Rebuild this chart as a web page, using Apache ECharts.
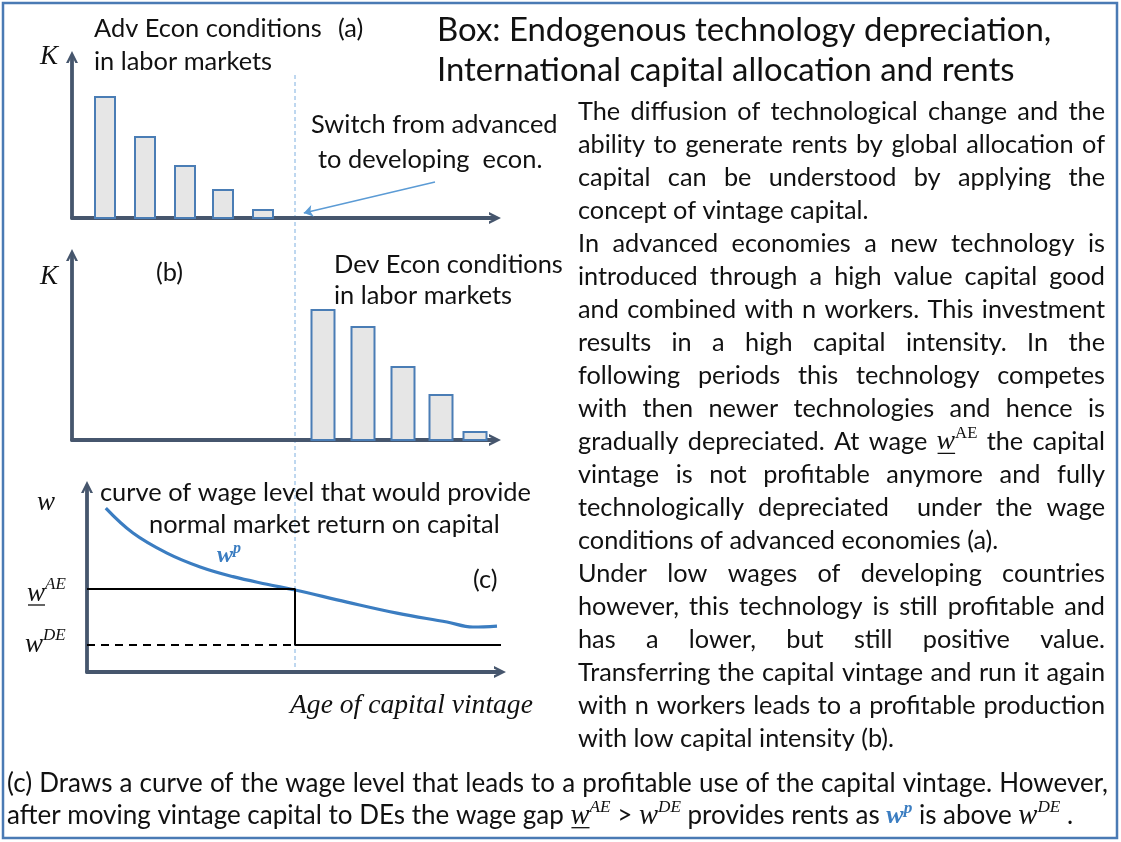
<!DOCTYPE html>
<html lang="en">
<head>
<meta charset="UTF-8">
<title>Endogenous technology depreciation</title>
<style>
  html,body{margin:0;padding:0;background:#fff;}
  #main{width:1121px;height:842px;}
</style>
</head>
<body>
<div id="main"></div>
<script src="https://cdn.jsdelivr.net/npm/echarts@6/dist/echarts.min.js"></script>
<script>
// (a) vintages in advanced economies: age and capital value
const agesAdv = [0.45, 1.45, 2.45, 3.4, 4.4];
const capitalAdv = [12.1, 8.1, 5.2, 2.8, 0.8];
// (b) the same vintages run in developing economies
const agesDev = [5.9, 6.9, 7.9, 8.85, 9.7];
const capitalDev = [13.0, 11.3, 7.3, 4.5, 0.8];
// (c) wage level w^p giving normal return, by vintage age
const curveAge = [0.47, 1.15, 2.0, 2.83, 3.65, 4.5, 5.2, 6.5, 7.75, 9.0, 9.65, 10.25];
const curveWage = [8.63, 7.32, 6.26, 5.53, 5.02, 4.62, 4.32, 3.68, 3.1, 2.63, 2.37, 2.42];
const wageAE = 4.37;
const wageDE = 1.42;
const switchAge = 5.2;
const ageEnd = 10.5;
const arrowFrom = [8.7, 3.6];
const arrowTo = [5.42, 0.5];

const titleLines = ['Box: Endogenous technology depreciation,', 'International capital allocation and rents'];
const bodyLines = [
  'The diffusion of technological change and the',
  'ability to generate rents by global allocation of',
  'capital can be understood by applying the',
  'concept of vintage capital.',
  'In advanced economies a new technology is',
  'introduced through a high value capital good',
  'and combined with n workers. This investment',
  'results in a high capital intensity. In the',
  'following periods this technology competes',
  'with then newer technologies and hence is',
  'gradually depreciated. At wage {wAE} the capital',
  'vintage is not profitable anymore and fully',
  'technologically depreciated  under the wage',
  'conditions of advanced economies (a).',
  'Under low wages of developing countries',
  'however, this technology is still profitable and',
  'has a lower, but still positive value.',
  'Transferring the capital vintage and run it again',
  'with n workers leads to a profitable production',
  'with low capital intensity (b).'
];
const bodyLast = [3, 13, 19]; // paragraph ends, not justified
const captionLines = [
  '(c) Draws a curve of the wage level that leads to a profitable use of the capital vintage. However,',
  'after moving vintage capital to DEs the wage gap {wAEi} > {wDE} provides rents as {wp} is above {wDE} .'
];

const SANS = 'Lato, "Liberation Sans", sans-serif';
const SERIF = '"Liberation Serif", "DejaVu Serif", serif';
const INK = '#111';
const BLUE = '#3b7dc1';
const AXIS = '#46566d';

const ctx = document.createElement('canvas').getContext('2d');
function textW(font, s){ ctx.font = font; return ctx.measureText(s).width; }
function fit(style, family, sample, target){ return 20 * target / textW(style + ' 20px ' + family, sample); }

const titleSize = fit('', SANS, titleLines[0], 615);
const labelSize = fit('', SANS, 'curve of wage level that would provide', 431);
// body: as wide as the reference, but every justified line must still fit 527px
const widest = Math.max(...bodyLines.filter((s, i) => !bodyLast.includes(i))
  .map(s => textW('20px ' + SANS, s.replace('{wAE}', 'wAE'))));
const bodySize = Math.min(fit('', SANS, 'conditions of advanced economies (a).', 429), 20 * 520 / widest);
const capSize = fit('', SANS, captionLines[0], 1092);
const ageSize = fit('italic', SERIF, 'Age of capital vintage', 243);

const f = (size, family, style) => (style ? style + ' ' : '') + size.toFixed(1) + 'px ' + family;

function wordAE(size, italicSup){
  return [
    {text:'w', font:f(size*1.1, SERIF, 'italic'), underline:true, ul:size*0.45},
    {text:'AE', font:f(size*0.66, SERIF, italicSup ? 'italic' : ''), dy:-size*0.32}
  ];
}
const special = {
  '{wAE}': wordAE(bodySize, false),
  '{wAEi}': wordAE(capSize, true),
  '{wDE}': [
    {text:'w', font:f(capSize*1.1, SERIF, 'italic')},
    {text:'DE', font:f(capSize*0.66, SERIF, 'italic'), dy:-capSize*0.32}
  ],
  '{wp}': [
    {text:'w', font:f(capSize*1.0, SERIF, 'italic bold'), fill:BLUE},
    {text:'p', font:f(capSize*0.66, SERIF, 'italic bold'), fill:BLUE, dy:-capSize*0.3}
  ]
};

const chart = echarts.init(document.getElementById('main'));

const arrowHead = 'path://M0,10 L5,0 L10,10 L7.8,10 L5,4.2 L2.2,10 Z';
function axisLine(){
  return {show:true, onZero:false, symbol:['none', arrowHead], symbolSize:[18, 12],
    lineStyle:{color:AXIS, width:3.8}};
}
function xAxis(grid, min, max){
  return {type:'value', gridIndex:grid, min, max, axisLine:axisLine(),
    axisTick:{show:false}, axisLabel:{show:false}, splitLine:{show:false}};
}
function yAxis(grid, max){
  return {type:'value', gridIndex:grid, min:0, max, axisLine:axisLine(),
    axisTick:{show:false}, axisLabel:{show:false}, splitLine:{show:false}};
}
function barItem(width){
  return function(params, api){
    const p0 = api.coord([api.value(0), 0]);
    const p1 = api.coord([api.value(0), api.value(1)]);
    return {type:'rect', shape:{x:p0[0]-width/2, y:p1[1], width, height:p0[1]-p1[1]},
      style:{fill:'#e6e6e6', stroke:'#4a7db5', lineWidth:2}};
  };
}

const option = {
  animation:false,
  grid:[
    {left:72, top:57, width:423, height:161},
    {left:72, top:255, width:423, height:185},
    {left:87, top:487, width:413, height:185}
  ],
  xAxis:[xAxis(0, -0.375, 10.2), xAxis(1, -0.375, 10.2), xAxis(2, 0, 10.325)],
  yAxis:[yAxis(0, 16.1), yAxis(1, 18.5), yAxis(2, 9.74)],
  series:[
    {type:'custom', xAxisIndex:0, yAxisIndex:0, renderItem:barItem(20),
      encode:{x:0, y:1}, data:agesAdv.map((a, i) => [a, capitalAdv[i]]),
      markLine:{silent:true, symbol:['none', 'arrow'], symbolSize:9, label:{show:false},
        lineStyle:{color:'#5b9bd5', width:1.4, type:'solid'},
        data:[[{coord:arrowFrom}, {coord:arrowTo}]]}},
    {type:'custom', xAxisIndex:1, yAxisIndex:1, renderItem:barItem(23),
      encode:{x:0, y:1}, data:agesDev.map((a, i) => [a, capitalDev[i]])},
    {type:'line', xAxisIndex:2, yAxisIndex:2, smooth:0.4, symbol:'none',
      lineStyle:{color:BLUE, width:3.2}, data:curveAge.map((a, i) => [a, curveWage[i]])},
    {type:'line', xAxisIndex:2, yAxisIndex:2, symbol:'none', clip:false,
      lineStyle:{color:'#000', width:2},
      data:[[0, wageAE], [switchAge, wageAE], [switchAge, wageDE], [ageEnd, wageDE]]},
    {type:'line', xAxisIndex:2, yAxisIndex:2, symbol:'none',
      lineStyle:{color:'#000', width:2, type:[8, 6]},
      data:[[0, wageDE], [switchAge, wageDE]]}
  ]
};
chart.setOption(option);

// texts and the switch line
const els = [];
els.push({type:'rect', silent:true, shape:{x:3, y:3, width:1114, height:835},
  style:{fill:'none', stroke:'#4a7ab4', lineWidth:2.5}});
const lineTop = chart.convertToPixel({gridIndex:0}, [switchAge, 14.3]);
const lineBot = chart.convertToPixel({gridIndex:2}, [switchAge, 0]);
els.push({type:'line', silent:true, shape:{x1:lineTop[0], y1:lineTop[1], x2:lineBot[0], y2:lineBot[1]},
  style:{stroke:'#7fb0e0', lineWidth:1, lineDash:[4, 3]}});

function txt(x, y, text, font, fill){
  els.push({type:'text', x, y, silent:true,
    style:{text, font, fill:fill || INK, textAlign:'left', textVerticalAlign:'middle'}});
  return textW(font, text);
}
function pieces(list, x, y){
  let px = x;
  list.forEach(p => {
    const w = txt(px, y + (p.dy || 0), p.text, p.font, p.fill);
    if (p.underline) els.push({type:'line', silent:true,
      shape:{x1:px + 1, y1:y + p.ul, x2:px + w, y2:y + p.ul}, style:{stroke:INK, lineWidth:1.3}});
    px += w;
  });
  return px - x;
}
const wordW = list => list.reduce((s, p) => s + textW(p.font, p.text), 0);
function textLine(str, x, y, font, width){
  const words = str.split(' ').map(t => special[t] || [{text:t, font}]);
  const ws = words.map(wordW);
  let gap = textW(font, ' ');
  if (width) gap = (width - ws.reduce((a, b) => a + b, 0)) / (words.length - 1);
  let px = x;
  words.forEach((w, i) => { pieces(w, px, y); px += ws[i] + gap; });
}

// title and body text
titleLines.forEach((s, i) => txt(437, 30 + 40 * i, s, f(titleSize, SANS)));
bodyLines.forEach((s, i) => {
  textLine(s, 578, 112 + 33 * i, f(bodySize, SANS), bodyLast.includes(i) ? 0 : 527);
});
textLine(captionLines[0], 7, 784, f(capSize, SANS), 1101);
textLine(captionLines[1], 7, 816, f(capSize, SANS), 0);

// panel labels
const lab = f(labelSize, SANS);
txt(94, 29, 'Adv Econ conditions', lab);
txt(338, 29, '(a)', lab);
txt(94, 62, 'in labor markets', lab);
txt(311, 125, 'Switch from advanced', lab);
txt(318, 160, 'to developing  econ.', lab);
txt(156, 273, '(b)', lab);
txt(334, 265, 'Dev Econ conditions', lab);
txt(334, 296, 'in labor markets', lab);
txt(100, 493, 'curve of wage level that would provide', lab);
txt(149, 525, 'normal market return on capital', lab);
txt(473, 580, '(c)', lab);
txt(290, 706, 'Age of capital vintage', f(ageSize, SERIF, 'italic'));

const sym = f(27, SERIF, 'italic');
txt(40, 57, 'K', sym);
txt(40, 277, 'K', sym);
txt(37, 503, 'w', sym);
pieces([{text:'w', font:sym, underline:true, ul:11},
  {text:'AE', font:f(17, SERIF, 'italic'), dy:-9}], 27, 594);
pieces([{text:'w', font:sym},
  {text:'DE', font:f(17, SERIF, 'italic'), dy:-9}], 25, 645);
pieces([{text:'w', font:f(24, SERIF, 'italic bold'), fill:BLUE},
  {text:'p', font:f(16, SERIF, 'italic bold'), fill:BLUE, dy:-7}], 217, 556);

chart.setOption({graphic:els});
</script>
</body>
</html>
